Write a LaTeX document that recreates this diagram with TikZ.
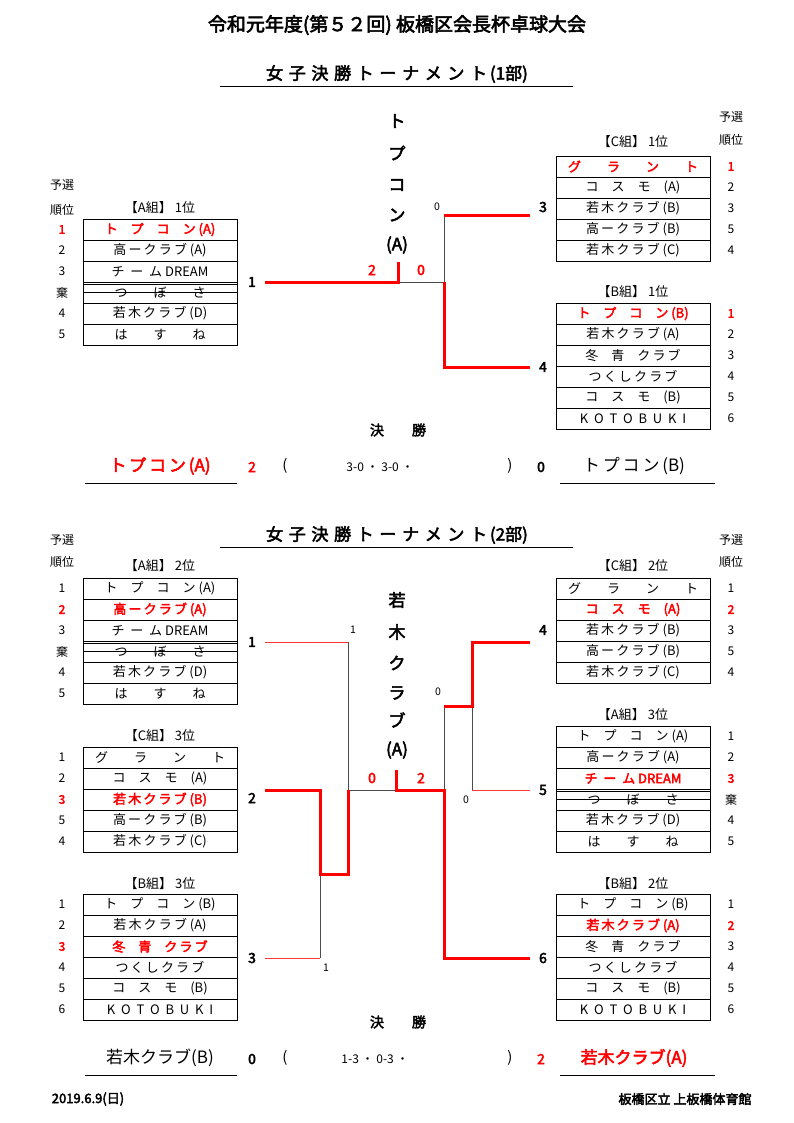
\documentclass[tikz,border=0pt]{standalone}
\usepackage{fontspec}
\setmainfont{Noto Sans CJK JP}[AutoFakeBold=3]
\usetikzlibrary{positioning}

\tikzset{
  cell/.style={inner sep=0pt,font=\fontsize{13}{14}\selectfont},
  seed/.style={inner sep=0pt,font=\fontsize{12}{13}\selectfont},
  grp/.style={inner sep=0pt,font=\fontsize{13}{14}\selectfont},
  lbl/.style={inner sep=0pt,font=\fontsize{14}{14}\selectfont\bfseries},
  sc/.style={inner sep=0pt,font=\fontsize{10.5}{11}\selectfont},
  rsc/.style={inner sep=0pt,text=red,font=\fontsize{14}{14}\selectfont\bfseries},
  win/.style={red,line width=3pt},
  thinwin/.style={red!80,line width=1pt},
  lose/.style={black!70,line width=1pt},
  vtxt/.style={inner sep=0pt,font=\fontsize{17}{17}\selectfont\bfseries},
}
\newcommand{\wn}[1]{\textcolor{red}{\bfseries #1}}
% team table: x left, y top, entries
\newcommand{\teamtab}[3]{%
  \foreach \t [count=\i] in {#3}{
    \draw[thin] (#1,#2+\i*21-21) rectangle ++(154,21);
    \node[cell] (cell-#1-#2-\i) at (#1+77,#2+\i*21-10.5) {\t};
  }}
% seed column: x, y top, entries
\newcommand{\seedcol}[3]{%
  \foreach \t [count=\i] in {#3}{
    \node[seed] (seed-#1-#2-\i) at (#1,#2+\i*21-10.5) {\t};
  }}

\begin{document}
\begin{tikzpicture}[x=1pt,y=-1pt]
\useasboundingbox (0,0) rectangle (794,1123);

%headers
\node[inner sep=0pt,font=\fontsize{19}{19}\selectfont\bfseries] (title) at (397,25) {令和元年度(第５２回) 板橋区会長杯卓球大会};
\node[inner sep=0pt,font=\fontsize{17}{17}\selectfont\bfseries] (sub1) at (397,74) {女\,\,子\,\,決\,\,勝\,\,ト\,\,ー\,\,ナ\,\,メ\,\,ン\,\,ト\,(1部)};
\draw (220,86) -- (573,86);
\node[seed] (ys1) at (62,185) {予選};
\node[seed] (jr1) at (62,210) {順位};
\node[seed] (ys2) at (731,117) {予選};
\node[seed] (jr2) at (731,140) {順位};

%=== part 1 tables
\node[grp] (gA1) at (160,208) {【A組】 1位};
\teamtab{83}{219}{\wn{ト\quad プ\quad コ\quad ン (A)},高\,ー\,ク\,ラ\,ブ (A),チ\ \ ー\ \ ム\ DREAM,つ\qquad ぼ\qquad さ,若\,木\,ク\,ラ\,ブ (D),は\qquad す\qquad ね}
\seedcol{62}{219}{\textcolor{red}{\bfseries 1},2,3,棄,4,5}
\draw[thick] (83,292.5) -- (237,292.5);
\draw (83,284) -- (237,284);

\node[grp] (gC1) at (633,142) {【C組】 1位};
\teamtab{556}{156}{\wn{グ\qquad ラ\qquad ン\qquad ト},コ\quad ス\quad モ\quad (A),若\,木\,ク\,ラ\,ブ (B),高\,ー\,ク\,ラ\,ブ (B),若\,木\,ク\,ラ\,ブ (C)}
\seedcol{731}{156}{\textcolor{red}{\bfseries 1},2,3,5,4}

\node[grp] (gB1) at (633,292) {【B組】 1位};
\teamtab{556}{303}{\wn{ト\quad プ\quad コ\quad ン (B)},若\,木\,ク\,ラ\,ブ (A),冬\quad 青\quad ク\,ラ\,ブ,つ\,く\,し\,ク\,ラ\,ブ,コ\quad ス\quad モ\quad (B),K\ \ O\ \ T\ \ O\ \ B\ \ U\ \ K\ \ I}
\seedcol{731}{303}{\textcolor{red}{\bfseries 1},2,3,4,5,6}

%=== part 1 bracket
\node[lbl] (p1) at (252,282) {1};
\node[lbl] (p3) at (543,207) {3};
\node[lbl] (p4) at (543,367) {4};
\coordinate (c1) at (265,282);
\coordinate (m1) at (398,282);
\coordinate (j1) at (444,282);
\coordinate (j3) at (444,216);
\coordinate (j4) at (444,367);
\coordinate (e3) at (530,216);
\coordinate (e4) at (530,367);
\draw[lose] (m1) -- (j1) -- (j3);
\draw[win] (c1) -- (m1) -- ++(0,-20);
\draw[win] (j1) -- (j4) -- (e4);
\draw[win] (j3) -- (e3);
\node[sc] (s3) at (437,207) {0};
\node[rsc] (s1a) at (372,270) {2};
\node[rsc] (s1b) at (421,270) {0};
\foreach \ch/\yy [count=\k] in {ト/121,プ/153,コ/185,ン/215,(A)/245}
  \node[vtxt] (v1-\k) at (397,\yy) {\ch};

\node[inner sep=0pt,font=\fontsize{14}{14}\selectfont\bfseries] (kk1) at (398,430) {決\qquad 勝};
\node[inner sep=0pt,text=red,font=\fontsize{17}{17}\selectfont\bfseries] (w1) at (160,466) {ト\,プ\,コ\,ン\,(A)};
\draw (85,483) -- (237,483);
\node[rsc] (f1a) at (252,467) {2};
\node[cell] (o1) at (285,466) {\fontsize{15}{15}\selectfont (};
\node[cell] (r1) at (380,467) {\fontsize{12}{12}\selectfont 3-0 ・ 3-0 ・};
\node[cell] (o2) at (510,466) {\fontsize{15}{15}\selectfont )};
\node[lbl] (f1b) at (541,467) {0};
\node[inner sep=0pt,font=\fontsize{17}{17}\selectfont] (l1) at (634,466) {ト\,プ\,コ\,ン\,(B)};
\draw (560,483) -- (715,483);

%=== part 2
\node[inner sep=0pt,font=\fontsize{17}{17}\selectfont\bfseries] (sub2) at (397,535) {女\,\,子\,\,決\,\,勝\,\,ト\,\,ー\,\,ナ\,\,メ\,\,ン\,\,ト\,(2部)};
\draw (220,547) -- (573,547);
\node[seed] (ys3) at (62,540) {予選};
\node[seed] (jr3) at (62,562) {順位};
\node[seed] (ys4) at (731,540) {予選};
\node[seed] (jr4) at (731,562) {順位};

\node[grp] (gA2) at (160,566) {【A組】 2位};
\teamtab{83}{578}{ト\quad プ\quad コ\quad ン (A),\wn{高\,ー\,ク\,ラ\,ブ (A)},チ\ \ ー\ \ ム\ DREAM,つ\qquad ぼ\qquad さ,若\,木\,ク\,ラ\,ブ (D),は\qquad す\qquad ね}
\seedcol{62}{578}{1,\textcolor{red}{\bfseries 2},3,棄,4,5}
\draw[thick] (83,651.5) -- (237,651.5);
\draw (83,643) -- (237,643);

\node[grp] (gC3) at (160,736) {【C組】 3位};
\teamtab{83}{747}{グ\qquad ラ\qquad ン\qquad ト,コ\quad ス\quad モ\quad (A),\wn{若\,木\,ク\,ラ\,ブ (B)},高\,ー\,ク\,ラ\,ブ (B),若\,木\,ク\,ラ\,ブ (C)}
\seedcol{62}{747}{1,2,\textcolor{red}{\bfseries 3},5,4}

\node[grp] (gB3) at (160,884) {【B組】 3位};
\teamtab{83}{894}{ト\quad プ\quad コ\quad ン (B),若\,木\,ク\,ラ\,ブ (A),\wn{冬\quad 青\quad ク\,ラ\,ブ},つ\,く\,し\,ク\,ラ\,ブ,コ\quad ス\quad モ\quad (B),K\ \ O\ \ T\ \ O\ \ B\ \ U\ \ K\ \ I}
\seedcol{62}{894}{1,2,\textcolor{red}{\bfseries 3},4,5,6}

\node[grp] (gC2) at (633,566) {【C組】 2位};
\teamtab{556}{578}{グ\qquad ラ\qquad ン\qquad ト,\wn{コ\quad ス\quad モ\quad (A)},若\,木\,ク\,ラ\,ブ (B),高\,ー\,ク\,ラ\,ブ (B),若\,木\,ク\,ラ\,ブ (C)}
\seedcol{731}{578}{1,\textcolor{red}{\bfseries 2},3,5,4}

\node[grp] (gA3) at (633,715) {【A組】 3位};
\teamtab{556}{726}{ト\quad プ\quad コ\quad ン (A),高\,ー\,ク\,ラ\,ブ (A),\wn{チ\ \ ー\ \ ム\ DREAM},つ\qquad ぼ\qquad さ,若\,木\,ク\,ラ\,ブ (D),は\qquad す\qquad ね}
\seedcol{731}{726}{1,2,\textcolor{red}{\bfseries 3},棄,4,5}
\draw[thick] (556,799.5) -- (710,799.5);
\draw (556,791) -- (710,791);

\node[grp] (gB2) at (633,884) {【B組】 2位};
\teamtab{556}{894}{ト\quad プ\quad コ\quad ン (B),\wn{若\,木\,ク\,ラ\,ブ (A)},冬\quad 青\quad ク\,ラ\,ブ,つ\,く\,し\,ク\,ラ\,ブ,コ\quad ス\quad モ\quad (B),K\ \ O\ \ T\ \ O\ \ B\ \ U\ \ K\ \ I}
\seedcol{731}{894}{1,\textcolor{red}{\bfseries 2},3,4,5,6}

%=== part 2 bracket
\node[lbl] (q1) at (252,642) {1};
\node[lbl] (q2) at (252,798) {2};
\node[lbl] (q3) at (252,958) {3};
\node[lbl] (q4) at (543,630) {4};
\node[lbl] (q5) at (543,790) {5};
\node[lbl] (q6) at (543,958) {6};
\coordinate (d1) at (265,642);
\coordinate (d2) at (265,790);
\coordinate (d3) at (265,958);
\coordinate (k1) at (348,642);
\coordinate (k2) at (348,790);
\coordinate (k3) at (320,958);
\coordinate (mid) at (396,790);
\coordinate (n1) at (444,790);
\coordinate (n2) at (444,706);
\coordinate (n3) at (472,706);
\coordinate (n4) at (472,642);
\coordinate (n5) at (472,790);
\coordinate (n6) at (444,958);
\coordinate (e4b) at (530,642);
\coordinate (e5b) at (530,790);
\coordinate (e6b) at (530,958);
\draw[lose] (k1) -- (k2) -- (mid);
\draw[lose] (k3) -- (320,874);
\draw[lose] (n1) -- (n2);
\draw[lose] (n3) -- (n5);
\draw[thinwin] (d1) -- (k1);
\draw[thinwin] (d3) -- (k3);
\draw[thinwin] (n5) -- (e5b);
\draw[win] (d2) -- (320,790) -- (320,874) -- (348,874) -- (k2);
\draw[win] (mid) ++(0,-20) -- (mid) -- (n1) -- (n6) -- (e6b);
\draw[win] (n2) -- (n3) -- (n4) -- (e4b);
\node[sc] (t1) at (353,630) {1};
\node[sc] (t3) at (326,968) {1};
\node[sc] (t4) at (438,692) {0};
\node[sc] (t5) at (466,800) {0};
\node[rsc] (t2a) at (372,778) {0};
\node[rsc] (t2b) at (421,778) {2};
\foreach \ch/\yy [count=\k] in {若/600,木/632,ク/663,ラ/693,ブ/720,(A)/750}
  \node[vtxt] (v2-\k) at (397,\yy) {\ch};

\node[inner sep=0pt,font=\fontsize{14}{14}\selectfont\bfseries] (kk2) at (398,1022) {決\qquad 勝};
\node[inner sep=0pt,font=\fontsize{17}{17}\selectfont] (l2) at (160,1058) {若木クラブ(B)};
\draw (85,1075) -- (237,1075);
\node[lbl] (f2a) at (252,1059) {0};
\node[cell] (o3) at (285,1058) {\fontsize{15}{15}\selectfont (};
\node[cell] (r2) at (375,1059) {\fontsize{12}{12}\selectfont 1-3 ・ 0-3 ・};
\node[cell] (o4) at (510,1058) {\fontsize{15}{15}\selectfont )};
\node[rsc] (f2b) at (541,1059) {2};
\node[inner sep=0pt,text=red,font=\fontsize{17}{17}\selectfont\bfseries] (w2) at (634,1058) {若木クラブ(A)};
\draw (560,1075) -- (715,1075);

%footer
\node[inner sep=0pt,font=\fontsize{13}{14}\selectfont\bfseries] (date) at (88,1099) {2019.6.9(日)};
\node[inner sep=0pt,font=\fontsize{13}{14}\selectfont\bfseries] (place) at (685,1099) {板橋区立 上板橋体育館};
\end{tikzpicture}
\end{document}
